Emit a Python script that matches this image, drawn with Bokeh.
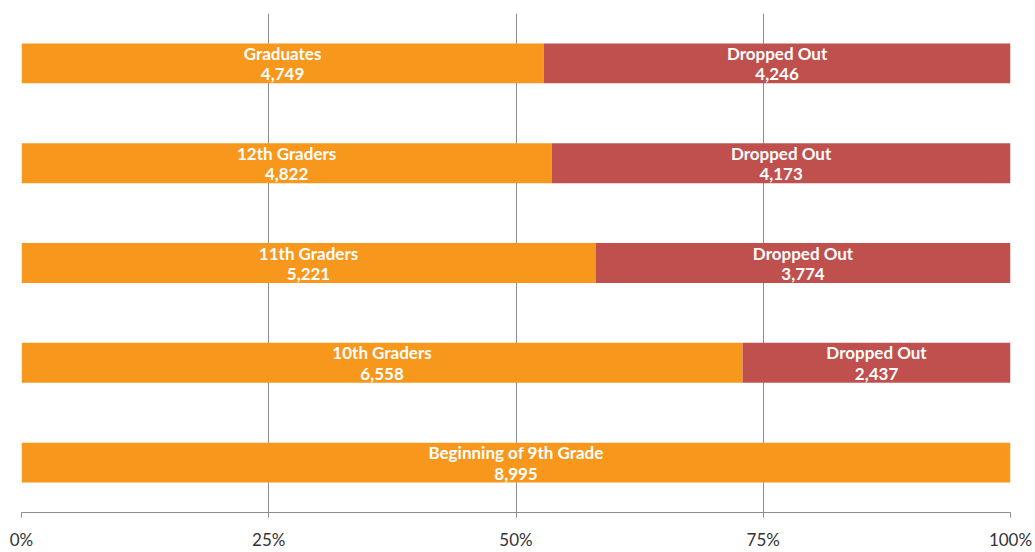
from bokeh.plotting import figure
from bokeh.models import ColumnDataSource, FactorRange, Range1d, FixedTicker, NumeralTickFormatter
from bokeh.core.properties import value
from bokeh.embed import file_html
from bokeh.resources import INLINE

stages = ["Beginning of 9th Grade", "10th Graders", "11th Graders", "12th Graders", "Graduates"]
remaining = [8995, 6558, 5221, 4822, 4749]
dropped = [0, 2437, 3774, 4173, 4246]
ticks = [0, 0.25, 0.5, 0.75, 1.0]

total = [r + d for r, d in zip(remaining, dropped)]
rem_frac = [r / t for r, t in zip(remaining, total)]
drop_frac = [d / t for d, t in zip(dropped, total)]

ORANGE = "#F7981D"
RED = "#C0504D"
GRID = "#8C8C8C"

p = figure(width=1035, height=552, output_backend="svg", toolbar_location=None,
           y_range=FactorRange(*stages), x_range=Range1d(0, 1),
           min_border_left=21, min_border_right=25, min_border_top=13, min_border_bottom=38)
p.outline_line_color = None
p.yaxis.visible = False
p.ygrid.grid_line_color = None
p.xgrid.ticker = FixedTicker(ticks=ticks)
p.xgrid.grid_line_color = GRID
p.xgrid.grid_line_width = 1

p.xaxis.ticker = FixedTicker(ticks=ticks)
p.xaxis.formatter = NumeralTickFormatter(format="0%")
p.xaxis.axis_line_color = GRID
p.xaxis.major_tick_line_color = GRID
p.xaxis.major_tick_in = 0
p.xaxis.major_tick_out = 5
p.xaxis.minor_tick_line_color = None
p.xaxis.major_label_text_font = "Lato"
p.xaxis.major_label_text_font_size = "17px"
p.xaxis.major_label_text_color = "#333333"
p.xaxis.major_label_standoff = 11

src = ColumnDataSource(dict(
    stage=stages, rem=rem_frac, drop=drop_frac,
    rem_end=rem_frac, drop_end=[a + b for a, b in zip(rem_frac, drop_frac)],
))
p.hbar(y="stage", left=0, right="rem_end", height=0.4, fill_color=ORANGE, line_color=None, source=src)
p.hbar(y="stage", left="rem_end", right="drop_end", height=0.4, fill_color=RED, line_color=None, source=src)

# labels
lab_stage, lab_x, lab_name, lab_val = [], [], [], []
for s, r, d, rf, df in zip(stages, remaining, dropped, rem_frac, drop_frac):
    lab_stage.append(s); lab_x.append(rf / 2); lab_name.append(s); lab_val.append(f"{r:,}")
    if d > 0:
        lab_stage.append(s); lab_x.append(rf + df / 2); lab_name.append("Dropped Out"); lab_val.append(f"{d:,}")
lsrc = ColumnDataSource(dict(stage=lab_stage, x=lab_x, name=lab_name, val=lab_val))
common = dict(text_color="white", text_font=value("Lato"), text_font_style="bold",
              text_font_size="17px", text_align="center", text_baseline="middle", source=lsrc)
p.text(x="x", y="stage", text="name", y_offset=-10, **common)
p.text(x="x", y="stage", text="val", y_offset=11, **common)

open("out.html", "w").write(file_html(p, INLINE))
